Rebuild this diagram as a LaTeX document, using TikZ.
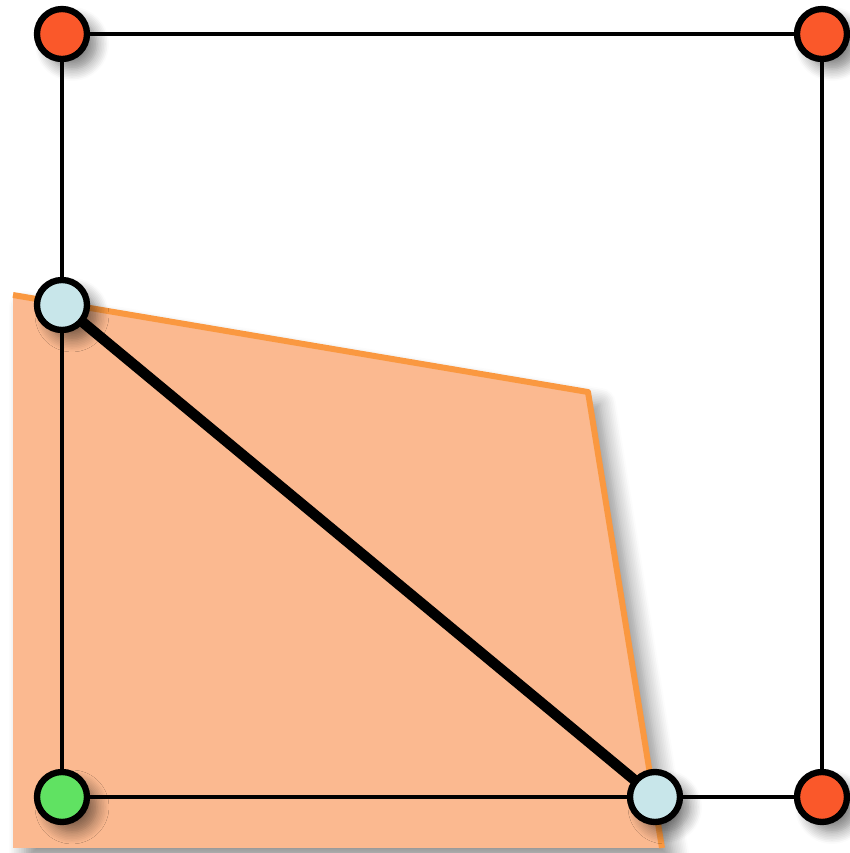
\documentclass[tikz,border=0pt]{standalone}
\usepackage{tikz}
\usetikzlibrary{shadows.blur}
\definecolor{cornerred}{RGB}{250,88,42}
\definecolor{cornergreen}{RGB}{96,226,98}
\definecolor{cutblue}{RGB}{200,230,234}
\definecolor{regionfill}{RGB}{251,185,144}
\definecolor{regionedge}{RGB}{250,152,64}
\begin{document}
\begin{tikzpicture}[
    vertex/.style={circle, draw=black, line width=1.8pt, minimum size=0.5cm,
                   inner sep=0pt, blur shadow={shadow blur steps=8, shadow blur radius=1.2mm,
                   shadow xshift=1mm, shadow yshift=-1mm, shadow opacity=50}},
    outer/.style={vertex, fill=cornerred},
    origin/.style={vertex, fill=cornergreen},
    cutpt/.style={vertex, fill=cutblue},
    edge/.style={line width=1.3pt, black},
    cutline/.style={line width=3pt, black}
]
\useasboundingbox (0,0) rectangle (8.50,8.53);

% feasible region
\coordinate (R1) at (0.13,5.58);
\coordinate (R2) at (5.88,4.61);
\coordinate (R3) at (6.62,0.05);
\coordinate (R4) at (0.13,0.05);
\fill[regionfill, blur shadow={shadow blur steps=10, shadow blur radius=1.6mm,
      shadow xshift=1.2mm, shadow yshift=-1.2mm, shadow opacity=45}]
    (R1) -- (R2) -- (R3) -- (R4) -- cycle;
\draw[regionedge, line width=1.7pt, line join=round] (R1) -- (R2) -- (R3);

% corners of the square
\coordinate (TL) at (0.62,8.19);
\coordinate (TR) at (8.22,8.19);
\coordinate (BR) at (8.22,0.56);
\coordinate (BL) at (0.62,0.56);
\coordinate (L) at (0.62,5.48);
\coordinate (B) at (6.55,0.56);

\draw[edge] (TL) -- (TR) -- (BR) -- (B) -- (BL) -- (L) -- cycle;
\draw[cutline] (L) -- (B);

\node[outer]  (tl) at (TL) {};
\node[outer]  (tr) at (TR) {};
\node[outer]  (br) at (BR) {};
\node[origin] (bl) at (BL) {};
\node[cutpt]  (l)  at (L)  {};
\node[cutpt]  (b)  at (B)  {};
\end{tikzpicture}
\end{document}
